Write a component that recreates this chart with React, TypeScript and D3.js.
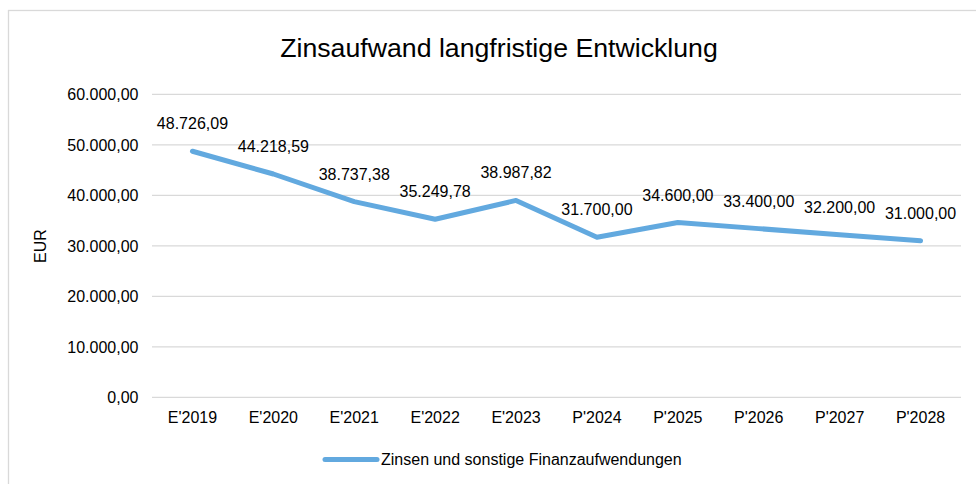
import React from "react";
import * as d3 from "d3";

const categories = ["E'2019", "E'2020", "E'2021", "E'2022", "E'2023", "P'2024", "P'2025", "P'2026", "P'2027", "P'2028"];
const values = [48726.09, 44218.59, 38737.38, 35249.78, 38987.82, 31700.0, 34600.0, 33400.0, 32200.0, 31000.0];
const yTicks = [0, 10000, 20000, 30000, 40000, 50000, 60000];
const title = "Zinsaufwand langfristige Entwicklung";
const seriesName = "Zinsen und sonstige Finanzaufwendungen";
const yAxisTitle = "EUR";

const fmt = (v: number) => {
  const s = v.toFixed(2);
  const [int, dec] = s.split(".");
  return int.replace(/\B(?=(\d{3})+(?!\d))/g, ".") + "," + dec;
};

export default function App() {
  const W = 976, H = 484;
  const left = 152, right = 961, top = 94.3, bottom = 397.3;
  const x = d3.scaleBand<string>().domain(categories).range([left, right]);
  const y = d3.scaleLinear().domain([0, 60000]).range([bottom, top]);
  const line = d3.line<number>()
    .x((_, i) => (x(categories[i]) as number) + x.bandwidth() / 2)
    .y((d) => y(d));
  const font = "Liberation Sans, Arial, sans-serif";
  const color = "#62A9DF";
  const fs = 16;
  return (
    <svg width={W} height={H} style={{ position: "absolute", left: 0, top: 0 }} fontFamily={font}>
      <rect x={0} y={0} width={W} height={H} fill="#fff" />
      <rect x={8.5} y={10.5} width={W + 20} height={H + 20} fill="#fff" stroke="#d9d9d9" strokeWidth={1.3} />
      <text x={499} y={56.5} textAnchor="middle" fontSize={26.7} fill="#000">{title}</text>
      {yTicks.map((t) => (
        <g key={t}>
          <line x1={left} x2={right} y1={y(t)} y2={y(t)} stroke="#d9d9d9" strokeWidth={1.3} />
          <text x={138.5} y={y(t) + 5.7} textAnchor="end" fontSize={fs} fill="#000">{fmt(t)}</text>
        </g>
      ))}
      <text transform={`translate(45.5,${246}) rotate(-90)`} textAnchor="middle" fontSize={fs} fill="#000">{yAxisTitle}</text>
      {categories.map((c) => (
        <text key={c} x={(x(c) as number) + x.bandwidth() / 2} y={422.5} textAnchor="middle" fontSize={fs} fill="#000">{c}</text>
      ))}
      <path d={line(values) || ""} fill="none" stroke={color} strokeWidth={5} strokeLinejoin="round" strokeLinecap="round" />
      {values.map((v, i) => (
        <text key={i} x={(x(categories[i]) as number) + x.bandwidth() / 2} y={y(v) - 22} textAnchor="middle" fontSize={fs} fill="#000">{fmt(v)}</text>
      ))}
      <line x1={325} x2={377} y1={459.5} y2={459.5} stroke={color} strokeWidth={5} strokeLinecap="round" />
      <text x={381} y={465} fontSize={fs} fill="#000">{seriesName}</text>
    </svg>
  );
}
